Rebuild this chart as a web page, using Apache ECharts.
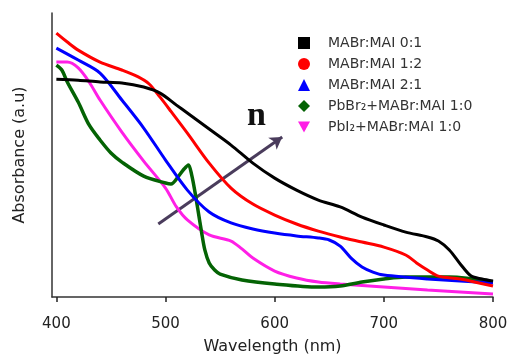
<!DOCTYPE html>
<html>
<head>
<meta charset="utf-8">
<script src="https://cdn.jsdelivr.net/npm/echarts@6/dist/echarts.min.js"></script>
<style>html,body{margin:0;padding:0;background:#fff}#c{width:509px;height:357px}</style>
</head>
<body>
<div id="c"></div>
<script>
// Wavelength ticks (nm)
var xTicks = [400, 500, 600, 700, 800];

// Series names
var names = ['MABr:MAI 0:1', 'MABr:MAI 1:2', 'MABr:MAI 2:1', 'PbBr\u2082+MABr:MAI 1:0', 'PbI\u2082+MABr:MAI 1:0'];

// MABr:MAI 0:1 (black)
var black = [[400,1.074],[420,1.069],[440,1.060],[460,1.055],[480,1.035],[495,1.005],[510,0.946],[520,0.907],[540,0.828],[560,0.749],[580,0.660],[600,0.586],[620,0.527],[640,0.478],[660,0.444],[680,0.394],[700,0.355],[720,0.320],[740,0.296],[750,0.276],[760,0.232],[770,0.163],[780,0.103],[790,0.089],[800,0.079]];

// MABr:MAI 1:2 (red)
var red = [[400,1.301],[410,1.257],[420,1.217],[440,1.158],[460,1.119],[475,1.085],[485,1.050],[495,0.985],[505,0.915],[520,0.808],[540,0.660],[560,0.537],[580,0.458],[600,0.404],[620,0.360],[640,0.325],[660,0.296],[680,0.271],[700,0.246],[720,0.207],[730,0.168],[740,0.133],[750,0.103],[770,0.089],[800,0.054]];

// MABr:MAI 2:1 (blue)
var blue = [[400,1.227],[420,1.168],[440,1.104],[460,0.971],[480,0.833],[500,0.675],[520,0.527],[540,0.419],[560,0.365],[580,0.335],[600,0.315],[620,0.301],[640,0.291],[650,0.281],[660,0.251],[670,0.192],[680,0.148],[690,0.123],[700,0.108],[740,0.089],[800,0.069]];

// PbBr2+MABr:MAI 1:0 (green)
var green = [[400,1.143],[405,1.119],[410,1.060],[420,0.961],[430,0.848],[440,0.774],[450,0.710],[460,0.665],[480,0.596],[500,0.562],[505,0.557],[512,0.596],[517,0.631],[521,0.651],[524,0.601],[527,0.517],[530,0.419],[533,0.320],[536,0.232],[540,0.168],[545,0.133],[550,0.113],[570,0.084],[600,0.064],[640,0.049],[660,0.054],[680,0.074],[700,0.089],[720,0.099],[760,0.099],[800,0.074]];

// PbI2+MABr:MAI 1:0 (magenta)
var magenta = [[400,1.158],[410,1.158],[420,1.129],[430,1.060],[440,0.971],[460,0.813],[480,0.670],[500,0.537],[510,0.444],[520,0.380],[540,0.306],[560,0.276],[570,0.237],[580,0.192],[600,0.128],[620,0.094],[640,0.074],[660,0.064],[700,0.049],[740,0.034],[800,0.015]];

// Arrow annotation endpoints (data coords)
var arrowFrom = [493.4, 0.36];
var arrowTo = [606.9, 0.789];

var colors = ['#000000', '#ff0000', '#0000ff', '#046304', '#ff1fe6'];
var icons = ['rect', 'circle', 'triangle', 'diamond', 'path://M0,0L10,0L5,9Z'];
var seriesData = [black, red, blue, green, magenta];

var chart = echarts.init(document.getElementById('c'), null, {renderer: 'canvas'});
var series = seriesData.map(function (d, i) {
  var s = {
    name: names[i],
    type: 'line',
    data: d,
    smooth: 0.3,
    showSymbol: false,
    symbol: 'none',
    color: colors[i],
    lineStyle: {color: colors[i], width: i === 3 ? 3.5 : 3},
    z: 10 - i,
    silent: true
  };
  if (i === 0) {
    s.markLine = {
      silent: true,
      symbol: ['none', 'arrow'],
      symbolSize: [11, 12],
      label: {show: false},
      lineStyle: {color: '#4a3c5c', width: 3, type: 'solid'},
      data: [[{coord: arrowFrom}, {coord: arrowTo}]]
    };
  }
  return s;
});

chart.setOption({
  animation: false,
  backgroundColor: '#fff',
  grid: {left: 52, right: 16, top: 13, bottom: 60, containLabel: false, outerBoundsMode: 'none'},
  legend: {
    orient: 'vertical',
    left: 293,
    top: 31,
    itemWidth: 12,
    itemHeight: 12,
    itemGap: 7,
    data: names.map(function (n, i) {
      return {name: n, icon: icons[i], itemStyle: {color: colors[i]}};
    }),
    textStyle: {fontFamily: 'DejaVu Sans', fontSize: 14, color: '#333', padding: [0, 0, 0, 13], lineHeight: 12}
  },
  xAxis: {
    type: 'value',
    min: 396,
    max: 800,
    name: 'Wavelength (nm)',
    nameLocation: 'middle',
    nameGap: 42,
    nameTextStyle: {fontFamily: 'DejaVu Sans', fontSize: 16, color: '#222'},
    axisLine: {lineStyle: {color: '#333', width: 1.5}},
    axisTick: {show: true, length: 5, lineStyle: {color: '#222', width: 1.5}, customValues: xTicks},
    axisLabel: {fontFamily: 'DejaVu Sans', fontSize: 15, color: '#222', margin: 20, customValues: xTicks},
    splitLine: {show: false}
  },
  yAxis: {
    type: 'value',
    min: 0,
    max: 1.4,
    name: 'Absorbance (a.u)',
    nameLocation: 'middle',
    nameGap: 24,
    nameTextStyle: {fontFamily: 'DejaVu Sans', fontSize: 16, color: '#222'},
    axisLine: {show: true, lineStyle: {color: '#333', width: 1.5}},
    axisTick: {show: false},
    axisLabel: {show: false},
    splitLine: {show: false}
  },
  graphic: [{
    type: 'text',
    left: 247,
    top: 99,
    style: {text: 'n', fontFamily: 'Liberation Serif', fontWeight: 'bold', fontSize: 34, fill: '#111'}
  }],
  series: series
});
</script>
</body>
</html>
